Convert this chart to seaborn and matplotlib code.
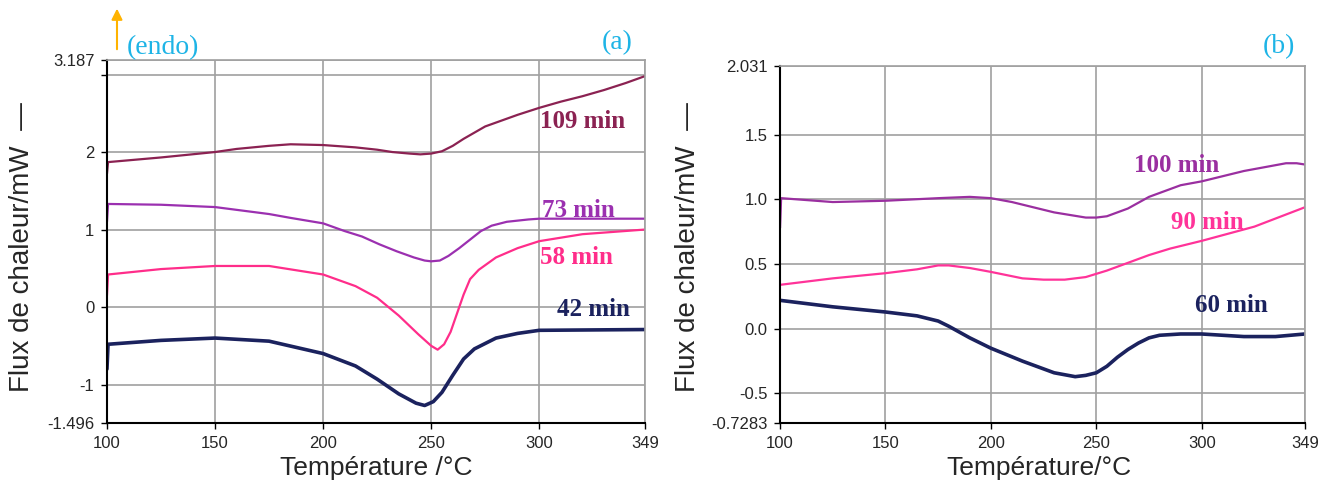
import matplotlib
matplotlib.use('Agg')
import matplotlib.pyplot as plt
import seaborn as sns
import pandas as pd

# ---- data (a) ----
t_109 = [100, 100.5, 125, 150, 160, 175, 185, 200, 215, 225, 232, 240, 245, 250, 255, 260, 265, 270, 275, 282, 290, 300, 310, 320, 330, 340, 349]
v_109 = [1.72, 1.87, 1.93, 2.00, 2.04, 2.08, 2.10, 2.09, 2.06, 2.03, 2.00, 1.98, 1.97, 1.98, 2.01, 2.08, 2.17, 2.25, 2.33, 2.40, 2.48, 2.57, 2.65, 2.72, 2.80, 2.89, 2.98]

t_73 = [100, 100.5, 125, 150, 175, 185, 200, 210, 218, 226, 234, 242, 247, 250, 254, 258, 263, 268, 273, 278, 285, 295, 300, 349]
v_73 = [1.10, 1.33, 1.32, 1.29, 1.20, 1.15, 1.08, 0.98, 0.91, 0.81, 0.72, 0.64, 0.60, 0.59, 0.60, 0.66, 0.76, 0.87, 0.98, 1.05, 1.10, 1.13, 1.14, 1.14]

t_58 = [100, 100.5, 125, 150, 175, 200, 215, 225, 235, 244, 250, 253, 256, 259, 262, 265, 268, 272, 280, 290, 300, 320, 349]
v_58 = [0.15, 0.42, 0.49, 0.53, 0.53, 0.42, 0.27, 0.12, -0.11, -0.35, -0.50, -0.55, -0.48, -0.32, -0.08, 0.16, 0.36, 0.48, 0.64, 0.76, 0.85, 0.94, 1.0]

t_42 = [100, 100.5, 125, 150, 175, 200, 215, 225, 235, 243, 247, 251, 255, 260, 265, 270, 280, 290, 300, 349]
v_42 = [-0.80, -0.48, -0.43, -0.40, -0.44, -0.60, -0.76, -0.93, -1.12, -1.24, -1.27, -1.22, -1.10, -0.88, -0.67, -0.54, -0.40, -0.34, -0.30, -0.29]

# ---- data (b) ----
t_100 = [100, 100.5, 125, 150, 175, 190, 200, 210, 225, 230, 245, 250, 255, 265, 275, 280, 290, 300, 320, 340, 345, 349]
v_100 = [0.78, 1.01, 0.98, 0.99, 1.01, 1.02, 1.01, 0.98, 0.92, 0.90, 0.86, 0.86, 0.87, 0.93, 1.02, 1.05, 1.11, 1.14, 1.22, 1.28, 1.28, 1.27]

t_90 = [100, 125, 150, 165, 175, 180, 190, 200, 215, 225, 235, 245, 255, 265, 275, 285, 300, 325, 349]
v_90 = [0.34, 0.39, 0.43, 0.46, 0.49, 0.49, 0.47, 0.44, 0.39, 0.38, 0.38, 0.40, 0.45, 0.51, 0.57, 0.62, 0.68, 0.79, 0.94]

t_60 = [100, 125, 150, 165, 175, 180, 190, 200, 215, 230, 240, 245, 250, 255, 260, 265, 270, 275, 280, 290, 300, 320, 335, 349]
v_60 = [0.22, 0.17, 0.13, 0.10, 0.06, 0.02, -0.07, -0.15, -0.25, -0.34, -0.37, -0.36, -0.34, -0.29, -0.22, -0.16, -0.11, -0.07, -0.05, -0.04, -0.04, -0.06, -0.06, -0.04]

x_ticks = [100, 150, 200, 250, 300, 349]
y_ticks_a = [-1.496, -1, 0, 1, 2, 3, 3.187]
y_labels_a = ['-1.496', '-1', '0', '1', '2', '', '3.187']
y_ticks_b = [-0.7283, -0.5, 0.0, 0.5, 1.0, 1.5, 2.031]
y_labels_b = ['-0.7283', '-0.5', '0.0', '0.5', '1.0', '1.5', '2.031']

df_a = pd.concat([
    pd.DataFrame({'T': t_109, 'flux': v_109, 'temps': '109 min'}),
    pd.DataFrame({'T': t_73, 'flux': v_73, 'temps': '73 min'}),
    pd.DataFrame({'T': t_58, 'flux': v_58, 'temps': '58 min'}),
    pd.DataFrame({'T': t_42, 'flux': v_42, 'temps': '42 min'}),
])
df_b = pd.concat([
    pd.DataFrame({'T': t_100, 'flux': v_100, 'temps': '100 min'}),
    pd.DataFrame({'T': t_90, 'flux': v_90, 'temps': '90 min'}),
    pd.DataFrame({'T': t_60, 'flux': v_60, 'temps': '60 min'}),
])

pal_a = {'109 min': '#8b2252', '73 min': '#9b30b0', '58 min': '#ff2d8a', '42 min': '#1b225e'}
pal_b = {'100 min': '#9a2fa0', '90 min': '#ff3399', '60 min': '#1b225e'}
lw = {'109 min': 1.6, '73 min': 1.6, '58 min': 1.6, '42 min': 2.6,
      '100 min': 1.6, '90 min': 1.6, '60 min': 2.6}

sns.set_style('white')
sans = ['Liberation Sans', 'DejaVu Sans']
serif = ['Liberation Serif', 'DejaVu Serif']

fig = plt.figure(figsize=(13.19, 4.86), dpi=100)
ax_a = fig.add_axes([0.0811, 0.1296, 0.408, 0.7469])
ax_b = fig.add_axes([0.5914, 0.1296, 0.398, 0.7344])


def draw(ax, df, pal, yt, yl, ylim):
    for name, g in df.groupby('temps', sort=False):
        sns.lineplot(data=g, x='T', y='flux', color=pal[name], lw=lw[name], ax=ax,
                     estimator=None, sort=False, legend=False)
    ax.set_xlim(100, 349)
    ax.set_ylim(*ylim)
    ax.set_xticks(x_ticks)
    ax.set_xticklabels([str(x) for x in x_ticks], family=sans, fontsize=12)
    ax.set_yticks(yt)
    ax.set_yticklabels(yl, family=sans, fontsize=12)
    ax.grid(True, color='#a0a0a0', lw=1.2)
    ax.set_xlabel('')
    ax.set_ylabel('')
    ax.tick_params(axis='both', direction='out', length=4, width=1, color='black', pad=5,
                   left=True, bottom=True)
    for s in ['left', 'bottom']:
        ax.spines[s].set_color('black')
        ax.spines[s].set_linewidth(1.5)
    for s in ['top', 'right']:
        ax.spines[s].set_color('#a0a0a0')
        ax.spines[s].set_linewidth(1.2)


draw(ax_a, df_a, pal_a, y_ticks_a, y_labels_a, (-1.496, 3.187))
draw(ax_b, df_b, pal_b, y_ticks_b, y_labels_b, (-0.7283, 2.031))

# curve labels
lab_a = [('109 min', 320, 2.39), ('73 min', 318, 1.24), ('58 min', 317, 0.64), ('42 min', 325, -0.03)]
for name, x, y in lab_a:
    ax_a.text(x, y, name, color=pal_a[name], family=serif, fontsize=18, fontweight='bold',
              ha='center', va='center')
lab_b = [('100 min', 288, 1.26), ('90 min', 302.5, 0.82), ('60 min', 314, 0.18)]
for name, x, y in lab_b:
    ax_b.text(x, y, name, color=pal_b[name], family=serif, fontsize=18, fontweight='bold',
              ha='center', va='center')

# axis labels
fig.text(0.017, 0.492, 'Flux de chaleur/mW  \u2014', rotation=90, ha='center', va='center',
         family=sans, fontsize=20)
fig.text(0.5216, 0.492, 'Flux de chaleur/mW  \u2014', rotation=90, ha='center', va='center',
         family=sans, fontsize=20)
fig.text(0.285, 0.037, 'Température /°C', ha='center', va='center', family=sans, fontsize=19)
fig.text(0.788, 0.037, 'Température/°C', ha='center', va='center', family=sans, fontsize=19)

# annotations
fig.text(0.1236, 0.903, '(endo)', color='#1eb4e6', family=serif, fontsize=20, ha='center', va='center')
fig.text(0.468, 0.912, '(a)', color='#1eb4e6', family=serif, fontsize=20, ha='center', va='center')
fig.text(0.970, 0.905, '(b)', color='#1eb4e6', family=serif, fontsize=20, ha='center', va='center')
fig.add_artist(matplotlib.patches.FancyArrowPatch((0.0887, 0.893), (0.0887, 0.988),
                                                  transform=fig.transFigure, arrowstyle='-|>',
                                                  mutation_scale=16, color='#ffb300', lw=1.5))

fig.savefig('out.png', dpi=100)
